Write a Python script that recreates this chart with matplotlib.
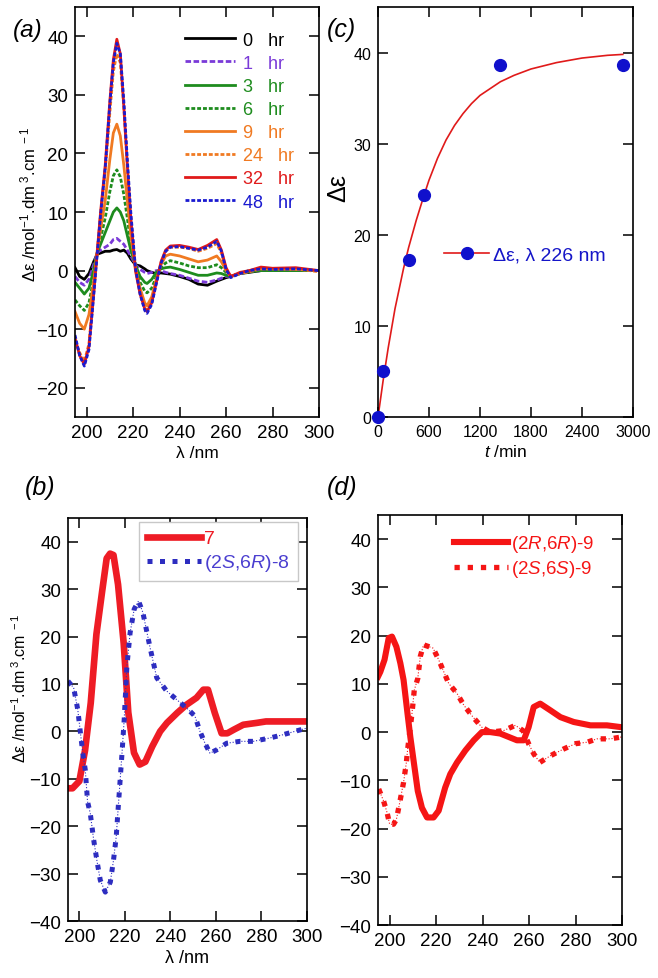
import matplotlib
matplotlib.use("Agg")
import matplotlib.pyplot as plt

plt.rcParams["font.family"] = ["Liberation Sans", "DejaVu Sans"]
plt.rcParams["mathtext.fontset"] = "custom"
plt.rcParams["mathtext.rm"] = "Liberation Sans"
plt.rcParams["mathtext.it"] = "Liberation Sans:italic"
plt.rcParams["axes.linewidth"] = 1.2

# ---------------------------------------------------------------
# (a) CD spectra over time
# ---------------------------------------------------------------
lam_a = [195, 197, 199, 201, 203, 204.5, 206, 208, 210, 211.5, 213, 214.5, 216, 217.5,
         219, 221, 223, 225, 226, 228, 230, 232, 234, 236, 240, 244, 248, 252, 256,
         258, 260, 262, 266, 270, 275, 280, 290, 300]

hr_0 = [0.5, -1, -1.5, -0.5, 1.5, 2.8, 3, 3.3, 3.3, 3.5, 3.6, 3.3, 3.5, 3, 2, 1, 0.8,
        0.3, 0, -0.3, -0.5, -0.4, -0.5, -0.6, -1, -1.5, -2.3, -2.5, -1.8, -1.5, -1.2,
        -1, -0.5, -0.3, 0, 0, 0, 0]
hr_1 = [-1, -2, -2.5, -1.5, 1, 3, 3.5, 4, 4.5, 5.3, 5.5, 5, 4.5, 3.5, 2.5, 1, 0.2,
        -0.3, -0.5, -0.3, 0, 0, -0.3, -0.5, -0.8, -1.3, -1.8, -2, -1.6, -1.3, -1, -1,
        -0.5, -0.2, 0, 0, 0, 0]
hr_3 = [-2, -3, -4, -3, 0, 3, 4.5, 6.5, 8.5, 10, 10.7, 10, 8.5, 6, 3.5, 1, -1, -2,
        -2.2, -1.5, -0.3, 0.3, 0.5, 0.6, 0.2, -0.3, -0.8, -0.8, -0.4, -0.5, -0.8, -1,
        -0.5, -0.2, 0, 0, 0, 0]
hr_6 = [-5, -6, -6.8, -5.5, -1.5, 2.8, 5.5, 9, 13.5, 16.2, 17.2, 16, 13, 9, 4.5, 1,
        -2, -3.5, -3.8, -3, -1, 0.5, 1.3, 1.7, 1.3, 0.8, 0.5, 0.5, 1.0, 0.5, -0.3, -1,
        -0.5, 0, 0.2, 0.2, 0.2, 0]
hr_9 = [-7, -9, -10, -7.5, -2, 3, 7, 12, 19, 23.5, 25, 23, 18, 12, 6, 0.5, -3, -5.5,
        -6, -4.5, -1.5, 1, 2.5, 2.8, 2.5, 2.0, 1.5, 1.8, 2.5, 1.5, 0, -1, -0.5, 0, 0.3,
        0.3, 0.2, 0]
hr_24 = [-12, -14, -15.5, -12.5, -4, 3, 9.5, 17, 27, 34, 37, 35.5, 28, 18, 9, 0.5,
         -3.5, -6.3, -6.8, -5.3, -2, 1.3, 3.3, 4.0, 4.0, 3.8, 3.3, 3.8, 4.6, 3, 0.3,
         -1, -0.5, -0.2, 0.3, 0.3, 0.3, -0.2]
hr_32 = [-11.5, -14.5, -16, -13, -4, 3, 10, 18, 29, 36, 39.5, 37, 28, 18, 9, 0, -4,
         -6.5, -7, -5.5, -2, 1.5, 3.5, 4.2, 4.3, 4.0, 3.6, 4.3, 5.3, 3.5, 0.5, -1, -0.3,
         0, 0.6, 0.4, 0.5, 0]
hr_48 = [-11, -14.5, -16.3, -13.5, -4.5, 2.5, 9.5, 17.5, 28.5, 35.5, 38.8, 37, 29,
         19, 10, 0.5, -4, -6.8, -7.3, -5.8, -2.2, 1.2, 3.3, 4.0, 4.1, 3.8, 3.5, 4.0,
         5.0, 3.3, 0.2, -1.2, -0.5, 0, 0.3, 0.2, 0.3, 0]

series_a = [hr_0, hr_1, hr_3, hr_6, hr_9, hr_24, hr_32, hr_48]
labels_a = ["0   hr", "1   hr", "3   hr", "6   hr", "9   hr", "24   hr", "32   hr", "48   hr"]
colors_a = ["#000000", "#7a3ad8", "#1e8c1e", "#1e8c1e", "#f07a22", "#f07a22", "#e01a1a", "#1a1ad0"]
DASH = (0, (2.0, 0.9))
DOT = (0, (1.4, 0.7))
styles_a = ["-", DASH, "-", DOT, "-", DOT, "-", DOT]

# ---------------------------------------------------------------
# (c) kinetics at 226 nm
# ---------------------------------------------------------------
t_pts = [0, 60, 360, 540, 1440, 2880]
de_pts = [0, 5.0, 17.2, 24.4, 38.6, 38.6]
t_fit = [0, 60, 120, 200, 300, 360, 450, 540, 600, 700, 800, 900, 1000, 1100, 1200,
         1440, 1600, 1800, 2100, 2400, 2700, 2880]
de_fit = [0, 4.0, 7.6, 11.9, 16.3, 18.6, 21.6, 24.3, 26.0, 28.4, 30.4, 32.0, 33.3,
          34.4, 35.3, 36.8, 37.5, 38.2, 38.9, 39.4, 39.7, 39.8]

# ---------------------------------------------------------------
# (b) compound 7 vs (2S,6R)-8
# ---------------------------------------------------------------
lam_7 = [195, 197, 200, 202.5, 205, 207.5, 210, 212, 213.5, 215, 217, 219.5, 221.5,
         224, 226.5, 229, 232, 235.5, 238.5, 243, 247, 251.5, 254.5, 256.5, 259.5,
         262.5, 265, 268, 272, 278, 282, 292, 300]
de_7 = [-12, -12, -10.5, -4, 6, 20.5, 29.5, 36.5, 37.5, 37.2, 31, 18.5, 4, -4.5, -7,
        -6.4, -3.2, 0, 1.8, 3.9, 5.6, 7.1, 8.8, 8.8, 3.9, -0.4, -0.4, 0.4, 1.4, 1.8,
        2.1, 2.1, 2.1]
lam_8 = [195, 197.5, 199.3, 200.4, 201.6, 202.6, 203.6, 204.8, 206.3, 207.7, 209.2,
         211.4, 213.6, 215, 216.2, 217.2, 218.7, 219.7, 220.9, 222.3, 224.1, 226,
         227.9, 231.1, 234, 238.4, 243.5, 247.9, 250.8, 253, 255.2, 257.4, 260.3,
         264.7, 270.5, 276.4, 283.6, 289.5, 294.6, 300]
de_8 = [10.6, 9.2, 4.6, 0, -4.9, -8.1, -14.8, -17.3, -22.9, -27.2, -31.4, -33.9,
        -31.8, -27.2, -22.2, -15.2, -4.9, 2.5, 13.8, 20.8, 25.8, 27.5, 25.1, 17.6,
        11.3, 8.5, 6.4, 4.6, 3.2, 0, -2.5, -4.6, -3.9, -2.5, -2.1, -2.1, -1.4, -0.7,
        0, 0.7]

# ---------------------------------------------------------------
# (d) (2R,6R)-9 vs (2S,6S)-9
# ---------------------------------------------------------------
lam_rr = [195, 196, 197.8, 199.6, 201, 202.9, 204.6, 206, 207.7, 208.9, 210.3, 212.1,
          213.9, 216.1, 218.9, 221.1, 223.9, 226.1, 229, 232.6, 236.2, 239.7, 243.3,
          247.6, 251.2, 254.8, 257.7, 259.8, 262, 264.8, 269.2, 273.5, 279.2, 286.4,
          293.5, 300]
de_rr = [11.5, 12.5, 15, 19.5, 19.8, 17.7, 14.3, 10.8, 3.8, -1, -5.9, -12.2, -15.7,
         -17.7, -17.7, -16.3, -11.5, -8.7, -6.3, -3.8, -1.7, 0, 0, -0.3, -1, -1.7,
         -1.7, 1, 5.2, 5.9, 4.5, 3.1, 2.1, 1.4, 1.4, 1]
lam_ss = [195.3, 197.4, 198.9, 200, 201.7, 202.9, 203.9, 204.9, 206, 207.2, 207.7,
          208.9, 209.6, 210.6, 212.1, 213.2, 214.6, 218.7, 221.1, 223.3, 225.4, 229,
          231.9, 235.9, 239.7, 243.3, 249, 254.1, 257.4, 259.8, 262, 264.6, 269.2,
          274.9, 280, 285, 289.2, 295, 300]
de_ss = [-11.8, -14.3, -16.7, -19.1, -19.1, -18.1, -15.7, -13.2, -10.4, -6.3, -3.8,
         1, 3.8, 8.7, 11.1, 15.7, 18.1, 17.4, 15, 12.5, 10.1, 8, 5.6, 3.1, 1, 0, 0.3,
         1.4, 0.3, -2.4, -4.5, -6.3, -4.9, -3.5, -2.4, -2.1, -1.4, -1.4, -1]

YLABEL = r"Δε /mol$^{-1}$.dm$^{\ 3}$.cm$^{\ -1}$"


def style_axes(ax, size):
    ax.tick_params(direction="in", top=True, right=True, length=7, width=1.1,
                   labelsize=size, pad=5)


fig = plt.figure(figsize=(6.58, 9.79), dpi=100)

# ---- (a) ----
ax_a = fig.add_axes([0.1140, 0.5730, 0.3708, 0.4188])
for y, lab, c, ls in zip(series_a, labels_a, colors_a, styles_a):
    ax_a.plot(lam_a, y, color=c, linestyle=ls, lw=2.0, label=lab)
ax_a.set_xlim(195, 300)
ax_a.set_ylim(-25, 45)
ax_a.set_xticks(range(200, 301, 20))
ax_a.set_yticks(range(-20, 41, 10))
style_axes(ax_a, 13.5)
ax_a.set_xlabel("λ /nm", fontsize=12.5, labelpad=3)
ax_a.set_ylabel(YLABEL, fontsize=12)
ax_a.yaxis.set_label_coords(-0.15, 0.52)
leg = ax_a.legend(loc="upper left", bbox_to_anchor=(0.45, 0.94), frameon=False,
                  fontsize=13, handlelength=2.8, handletextpad=0.45,
                  labelspacing=0.34, borderpad=0, borderaxespad=0)
for txt, c in zip(leg.get_texts(), colors_a):
    txt.set_color(c)
fig.text(0.02, 0.962, "(a)", fontsize=17.5, style="italic")

# ---- (c) ----
ax_c = fig.add_axes([0.5745, 0.5730, 0.3875, 0.4188])
ax_c.plot(t_fit, de_fit, color="#e01a1a", lw=1.2, zorder=2)
ax_c.plot(t_pts, de_pts, "o", color="#1010cc", ms=8.5, zorder=3, clip_on=False)
h = ax_c.plot([], [], "-o", color="#e01a1a", mfc="#1010cc", mec="#1010cc", ms=8.5,
              lw=1.2, label="Δε, λ 226 nm")[0]
ax_c.set_xlim(0, 3000)
ax_c.set_ylim(0, 45)
ax_c.set_xticks(range(0, 3001, 600))
ax_c.set_yticks(range(0, 41, 10))
style_axes(ax_c, 11.5)
ax_c.set_xlabel(r"$\mathit{t}$ /min", fontsize=12.5, labelpad=3)
ax_c.set_ylabel("Δε", fontsize=18)
ax_c.yaxis.set_label_coords(-0.11, 0.56)
leg_c = ax_c.legend(handles=[h], loc="center left", bbox_to_anchor=(0.26, 0.395),
                    frameon=False, fontsize=14, handlelength=2.3, handletextpad=0.2,
                    borderpad=0, borderaxespad=0)
leg_c.get_texts()[0].set_color("#1515c8")
fig.text(0.497, 0.962, "(c)", fontsize=18, style="italic")

# ---- (b) ----
ax_b = fig.add_axes([0.1033, 0.0582, 0.3632, 0.4116])
ax_b.plot(lam_7, de_7, color="#ee1c25", lw=4.8, solid_joinstyle="round", label="7")
ax_b.plot(lam_8, de_8, color="#2d2dc0", lw=0.8, linestyle=":")
ax_b.plot(lam_8, de_8, color="#2d2dc0", lw=3.6, linestyle=(0, (1, 1.5)),
          label=r"(2$\mathit{S}$,6$\mathit{R}$)-8")
ax_b.set_xlim(195, 300)
ax_b.set_ylim(-40, 45)
ax_b.set_xticks(range(200, 301, 20))
ax_b.set_yticks(range(-40, 41, 10))
style_axes(ax_b, 13.5)
ax_b.set_xlabel("λ /nm", fontsize=13, labelpad=3)
ax_b.set_ylabel(YLABEL, fontsize=11.5)
ax_b.yaxis.set_label_coords(-0.165, 0.58)
leg_b = ax_b.legend(loc="upper right", bbox_to_anchor=(0.962, 0.99), fontsize=14,
                    handlelength=2.8, handletextpad=0.15, labelspacing=0.25,
                    borderpad=0.4, borderaxespad=0, fancybox=False,
                    edgecolor="#c8c8c8", framealpha=1)
leg_b.get_frame().set_linewidth(1.0)
leg_b.get_texts()[0].set_color("#ee1c25")
leg_b.get_texts()[1].set_color("#4b3fd0")
fig.text(0.038, 0.494, "(b)", fontsize=18, style="italic")

# ---- (d) ----
ax_d = fig.add_axes([0.5745, 0.0541, 0.3708, 0.4188])
RED_D = "#f51515"
ax_d.plot(lam_rr, de_rr, color=RED_D, lw=4.4, solid_joinstyle="round",
          label=r"(2$\mathit{R}$,6$\mathit{R}$)-9")
ax_d.plot(lam_ss, de_ss, color=RED_D, lw=0.8, linestyle=":")
ax_d.plot(lam_ss, de_ss, color=RED_D, lw=3.8, linestyle=(0, (1, 1.5)),
          label=r"(2$\mathit{S}$,6$\mathit{S}$)-9")
ax_d.set_xlim(195, 300)
ax_d.set_ylim(-40, 45)
ax_d.set_xticks(range(200, 301, 20))
ax_d.set_yticks(range(-40, 41, 10))
style_axes(ax_d, 13.5)
leg_d = ax_d.legend(loc="upper left", bbox_to_anchor=(0.31, 0.955), frameon=False,
                    fontsize=13.5, handlelength=2.9, handletextpad=0.15,
                    labelspacing=0.2, borderpad=0, borderaxespad=0)
for txt in leg_d.get_texts():
    txt.set_color(RED_D)
fig.text(0.497, 0.494, "(d)", fontsize=18, style="italic")

fig.savefig("out.png", dpi=100)
